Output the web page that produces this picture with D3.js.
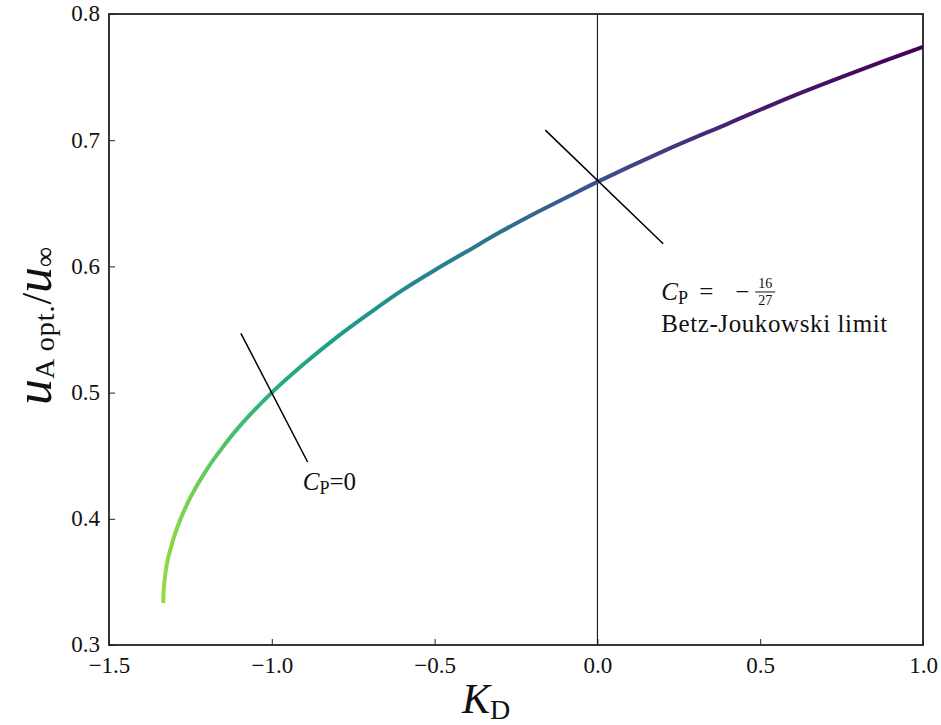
<!DOCTYPE html>
<html>
<head>
<meta charset="utf-8">
<script src="https://cdn.jsdelivr.net/npm/d3@7/dist/d3.min.js"></script>
<style>
body { margin: 0; background: #fff; }
svg text { font-family: "Liberation Serif", "DejaVu Serif", serif; fill: #111; }
</style>
</head>
<body>
<svg id="chart"></svg>
<script>
var width = 941,
	height = 725;

var margin = {top: 14, left: 109};

// curve samples: K_D and u_A opt./u_inf
var kValues = [-1.3333, -1.332, -1.329, -1.325, -1.32, -1.31, -1.30, -1.28, -1.25, -1.2, -1.15, -1.1, -1.0,
	-0.9, -0.8, -0.7, -0.6, -0.5, -0.4, -0.3, -0.2, -0.1, 0.0, 0.2, 0.4, 0.6, 0.8, 1.0];
var uValues = [0.3333, 0.344, 0.352, 0.360, 0.367, 0.377, 0.386, 0.400, 0.417, 0.439, 0.457, 0.473, 0.500,
	0.523, 0.544, 0.563, 0.581, 0.597, 0.612, 0.627, 0.641, 0.654, 0.667, 0.691, 0.713, 0.735, 0.755, 0.774];

// colour along the curve (position in viridis) at some K_D
var colourK = [-1.3333, -1.0, -0.515, 0.0, 0.435, 1.0];
var colourT = [0.84, 0.63, 0.45, 0.25, 0.08, 0.0];

var xTicks = [-1.5, -1.0, -0.5, 0.0, 0.5, 1.0];
var yTicks = [0.3, 0.4, 0.5, 0.6, 0.7, 0.8];

// marker lines crossing the curve
var markK1 = [-1.095, -0.890], markU1 = [0.547, 0.445];
var markK2 = [-0.160, 0.202], markU2 = [0.708, 0.618];

var x = d3.scaleLinear().domain([-1.5, 1.0]).range([0, 814]);
var y = d3.scaleLinear().domain([0.3, 0.8]).range([631, 0]);

var svg = d3.select("#chart")
	.attr("width", width)
	.attr("height", height);

var defs = svg.append("defs");
var grad = defs.append("linearGradient")
	.attr("id", "curveGrad")
	.attr("gradientUnits", "userSpaceOnUse")
	.attr("x1", x(-1.3333)).attr("x2", x(1.0))
	.attr("y1", 0).attr("y2", 0);

var colour = d3.scaleLinear().domain(colourK).range(colourT);
d3.range(0, 21).forEach(function(i) {
	var k = -1.3333 + i * (1.0 + 1.3333) / 20;
	grad.append("stop")
		.attr("offset", (i / 20 * 100) + "%")
		.attr("stop-color", d3.interpolateViridis(colour(k)));
});

var g = svg.append("g")
	.attr("transform", "translate(" + margin.left + "," + margin.top + ")");

// vertical line at K_D = 0
g.append("line")
	.attr("x1", x(0)).attr("x2", x(0))
	.attr("y1", y(0.8)).attr("y2", y(0.3))
	.attr("stroke", "#000")
	.attr("stroke-width", 1);

var data = kValues.map(function(k, i) { return [k, uValues[i]]; });

var line = d3.line()
	.x(function(d) { return x(d[0]); })
	.y(function(d) { return y(d[1]); })
	.curve(d3.curveCatmullRom.alpha(0.5));

g.append("path")
	.datum(data)
	.attr("fill", "none")
	.attr("stroke", "url(#curveGrad)")
	.attr("stroke-width", 4)
	.attr("d", line);

[[markK1, markU1], [markK2, markU2]].forEach(function(m) {
	g.append("line")
		.attr("x1", x(m[0][0])).attr("y1", y(m[1][0]))
		.attr("x2", x(m[0][1])).attr("y2", y(m[1][1]))
		.attr("stroke", "#000")
		.attr("stroke-width", 1.5);
});

// axes, ticks pointing inward
var xAxis = d3.axisBottom(x)
	.tickValues(xTicks)
	.tickSize(-6)
	.tickSizeOuter(0)
	.tickPadding(12)
	.tickFormat(d3.format(".1f"));

var yAxis = d3.axisLeft(y)
	.tickValues(yTicks)
	.tickSize(-6)
	.tickSizeOuter(0)
	.tickPadding(9)
	.tickFormat(d3.format(".1f"));

var gx = g.append("g")
	.attr("transform", "translate(0," + y(0.3) + ")")
	.call(xAxis);
var gy = g.append("g").call(yAxis);

[gx, gy].forEach(function(a) {
	a.attr("font-family", "Liberation Serif").attr("font-size", 23);
	a.select(".domain").remove();
	a.selectAll("line").attr("stroke", "#222");
	a.selectAll("text")
		.style("font-family", "'Liberation Serif', serif")
		.style("font-size", "23px")
		.attr("fill", "#111");
});
gy.selectAll("text").attr("dy", "0.3em");

// frame
g.append("rect")
	.attr("x", 0).attr("y", 0)
	.attr("width", x(1.0)).attr("height", y(0.3))
	.attr("fill", "none")
	.attr("stroke", "#222")
	.attr("stroke-width", 1.8);

// annotations
var t1 = g.append("text")
	.attr("x", x(-0.905))
	.attr("y", y(0.4228))
	.style("font-size", "25px");
t1.append("tspan").style("font-style", "italic").text("C");
t1.append("tspan").attr("dy", 4).style("font-size", "18px").text("P");
t1.append("tspan").attr("dy", -4).text("=0");

var ax = x(0.196),
	ay = y(0.5734);
var t2 = g.append("text")
	.attr("x", ax)
	.attr("y", ay)
	.style("font-size", "25px");
t2.append("tspan").style("font-style", "italic").text("C");
t2.append("tspan").attr("dy", 4).style("font-size", "18px").text("P");
g.append("text").attr("x", ax + 38).attr("y", ay).style("font-size", "25px").text("=");
g.append("text").attr("x", ax + 74).attr("y", ay).style("font-size", "25px").text("\u2212");

var fx = ax + 104;
g.append("text").attr("x", fx).attr("y", ay - 12)
	.attr("text-anchor", "middle").style("font-size", "14px").text("16");
g.append("line")
	.attr("x1", fx - 10).attr("x2", fx + 10)
	.attr("y1", ay - 8).attr("y2", ay - 8)
	.attr("stroke", "#111").attr("stroke-width", 1);
g.append("text").attr("x", fx).attr("y", ay + 5)
	.attr("text-anchor", "middle").style("font-size", "14px").text("27");

g.append("text")
	.attr("x", ax)
	.attr("y", y(0.5496) + 2)
	.style("font-size", "25px")
	.style("letter-spacing", "0.6px")
	.text("Betz-Joukowski limit");

// axis labels
var xl = svg.append("text")
	.attr("x", 462)
	.attr("y", 713)
	.style("font-size", "42px");
xl.append("tspan").style("font-style", "italic").text("K");
xl.append("tspan").attr("dy", 6).style("font-size", "28px").text("D");

var yl = svg.append("text")
	.attr("transform", "translate(51,326) rotate(-90)")
	.attr("text-anchor", "middle")
	.style("font-size", "52px");
yl.append("tspan").style("font-style", "italic").text("u");
yl.append("tspan").attr("dy", 3).style("font-size", "28px").style("letter-spacing", "1px").text("A opt.");
yl.append("tspan").attr("dy", -3).style("font-size", "42px").text("/");
yl.append("tspan").style("font-style", "italic").text("u");
yl.append("tspan").attr("dy", 3).style("font-size", "28px").text("\u221e");
</script>
</body>
</html>
